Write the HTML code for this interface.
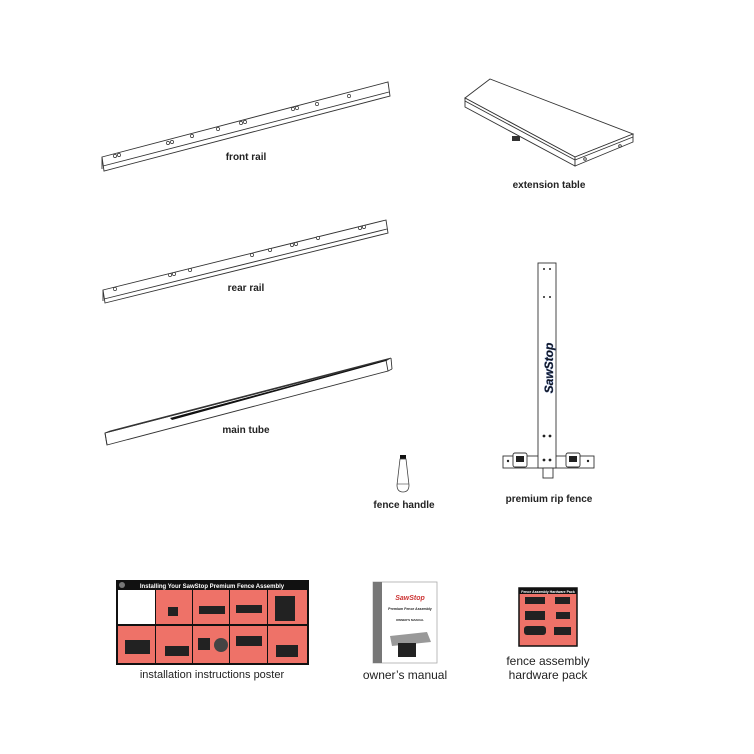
<!DOCTYPE html>
<html><head><meta charset="utf-8"><style>
html,body{margin:0;padding:0;background:#fff}
svg{display:block}
text{font-family:"Liberation Sans",Arial,sans-serif;fill:#222}
</style></head><body>
<svg width="754" height="754" viewBox="0 0 754 754" xmlns="http://www.w3.org/2000/svg">
<rect width="754" height="754" fill="#fff"/>
<g fill="none" stroke="#333" stroke-width="0.9">
<polygon points="102,157 388,82 390,96 104,171" fill="#fff"/>
<line x1="103" y1="166" x2="389" y2="92"/>
<line x1="102" y1="157" x2="102" y2="169"/>
<g fill="#fff" stroke-width="0.7">
<circle cx="115" cy="156" r="1.6"/><circle cx="119" cy="155" r="1.6"/>
<circle cx="168" cy="143" r="1.6"/><circle cx="172" cy="142" r="1.6"/>
<circle cx="192" cy="136" r="1.6"/><circle cx="218" cy="129" r="1.6"/>
<circle cx="241" cy="123" r="1.6"/><circle cx="245" cy="122" r="1.6"/>
<circle cx="293" cy="109" r="1.6"/><circle cx="297" cy="108" r="1.6"/>
<circle cx="317" cy="104" r="1.6"/><circle cx="349" cy="96" r="1.6"/>
</g>
<polygon points="103,290 386,220 388,233 105,303" fill="#fff"/>
<line x1="104" y1="299" x2="387" y2="229"/>
<line x1="103" y1="290" x2="103" y2="301"/>
<g fill="#fff" stroke-width="0.7">
<circle cx="115" cy="289" r="1.6"/><circle cx="170" cy="275" r="1.6"/><circle cx="174" cy="274" r="1.6"/>
<circle cx="190" cy="270" r="1.6"/><circle cx="252" cy="255" r="1.6"/><circle cx="270" cy="250" r="1.6"/>
<circle cx="292" cy="245" r="1.6"/><circle cx="296" cy="244" r="1.6"/><circle cx="318" cy="238" r="1.6"/>
<circle cx="360" cy="228" r="1.6"/><circle cx="364" cy="227" r="1.6"/>
</g>
<polygon points="105,433 386,360 388,371 107,445" fill="#fff"/>
<polygon points="105,433 110,431 391,358 386,360" fill="#fff"/>
<line x1="391" y1="358" x2="392" y2="369"/><line x1="392" y1="369" x2="388" y2="371"/>
<line x1="105" y1="433" x2="107" y2="445"/>
</g>
<polygon points="170,418 390,359 386,361 172,420" fill="#111"/>
<g fill="#fff" stroke="#333" stroke-width="0.9">
<polygon points="465,98 490,79 633,134 575,157"/>
<polygon points="465,98 575,157 575,166 465,107"/>
<polygon points="575,157 633,134 633,142 575,166"/>
<line x1="465" y1="101" x2="575" y2="160"/>
<line x1="575" y1="160" x2="633" y2="137"/>
<circle cx="585" cy="159" r="1.3"/><circle cx="620" cy="146" r="1.3"/>
</g>
<rect x="512" y="136" width="8" height="5" fill="#333"/>
<g stroke="#333" stroke-width="0.9" fill="#fff">
<rect x="503" y="456" width="91" height="12"/>
<rect x="538" y="263" width="18" height="205"/>
<rect x="513" y="453" width="14" height="14" rx="2"/>
<rect x="566" y="453" width="14" height="14" rx="2"/>
<rect x="543" y="468" width="10" height="10"/>
</g>
<g fill="#222">
<circle cx="544" cy="269" r="1"/><circle cx="550" cy="269" r="1"/>
<circle cx="544" cy="297" r="1"/><circle cx="550" cy="297" r="1"/>
<circle cx="544" cy="436" r="1.4"/><circle cx="550" cy="436" r="1.4"/>
<circle cx="544" cy="460" r="1.4"/><circle cx="550" cy="460" r="1.4"/>
<circle cx="508" cy="461" r="1.2"/><circle cx="588" cy="461" r="1.2"/>
<rect x="516" y="456" width="8" height="6"/><rect x="569" y="456" width="8" height="6"/>
</g>
<text x="0" y="0" transform="translate(553,368) rotate(-90)" text-anchor="middle" font-size="12" font-weight="bold" font-style="italic" style="fill:#111;stroke:#2d4a8a;stroke-width:0.4">SawStop</text>
<rect x="400" y="455" width="6" height="4" fill="#111"/>
<path d="M400,459 L406,459 L409,485 Q409,492 403,492 Q397,492 397,485 Z" fill="#fff" stroke="#444" stroke-width="0.8"/>
<line x1="397" y1="484" x2="409" y2="484" stroke="#444" stroke-width="0.6"/>
<rect x="116" y="580" width="193" height="85" fill="#111"/>
<rect x="118" y="590" width="37" height="34" fill="#fff"/>
<g fill="#ee7268">
<rect x="156" y="590" width="36" height="34"/><rect x="193" y="590" width="36" height="34"/><rect x="230" y="590" width="37" height="34"/><rect x="268" y="590" width="39" height="34"/>
<rect x="118" y="626" width="37" height="37"/><rect x="156" y="626" width="36" height="37"/><rect x="193" y="626" width="36" height="37"/><rect x="230" y="626" width="37" height="37"/><rect x="268" y="626" width="39" height="37"/>
</g>
<g fill="#222">
<rect x="168" y="607" width="10" height="9"/><rect x="199" y="606" width="26" height="8"/><rect x="236" y="605" width="26" height="8"/><rect x="275" y="596" width="20" height="25"/>
<rect x="125" y="640" width="25" height="14"/><rect x="165" y="646" width="24" height="10"/><rect x="198" y="638" width="12" height="12"/><rect x="236" y="636" width="26" height="10"/><rect x="276" y="645" width="22" height="12"/>
</g>
<circle cx="221" cy="645" r="7" fill="#444"/>
<text x="212" y="588" text-anchor="middle" font-size="6" font-weight="bold" style="fill:#fff">Installing Your SawStop Premium Fence Assembly</text>
<circle cx="122" cy="585" r="3" fill="#777"/>
<rect x="373" y="582" width="64" height="81" fill="#fff" stroke="#aaa" stroke-width="0.8"/>
<rect x="373" y="582" width="9" height="81" fill="#777"/>
<text x="410" y="600" text-anchor="middle" font-size="7" font-weight="bold" font-style="italic" style="fill:#c33">SawStop</text>
<text x="410" y="610" text-anchor="middle" font-size="3.5" font-weight="bold">Premium Fence Assembly</text>
<text x="410" y="621" text-anchor="middle" font-size="3" font-weight="bold">OWNER'S MANUAL</text>
<polygon points="390,636 427,632 431,642 392,646" fill="#999"/>
<rect x="398" y="643" width="18" height="14" fill="#222"/>
<rect x="519" y="588" width="58" height="58" fill="#ee7268" stroke="#111" stroke-width="1.5"/>
<rect x="519" y="588" width="58" height="6" fill="#111"/>
<text x="548" y="593" text-anchor="middle" font-size="3.5" font-weight="bold" style="fill:#fff">Fence Assembly Hardware Pack</text>
<g fill="#222">
<rect x="525" y="597" width="20" height="7"/><rect x="555" y="597" width="15" height="7"/>
<rect x="525" y="611" width="20" height="9"/><rect x="556" y="612" width="14" height="7"/>
<rect x="524" y="626" width="22" height="9" rx="3"/><rect x="554" y="627" width="17" height="8"/>
</g>
<g font-size="10" text-anchor="middle" font-weight="bold">
<text x="246" y="160">front rail</text>
<text x="549" y="188">extension table</text>
<text x="246" y="291">rear rail</text>
<text x="246" y="433">main tube</text>
<text x="404" y="508">fence handle</text>
<text x="549" y="502">premium rip fence</text>
</g>
<g font-size="11" text-anchor="middle">
<text x="212" y="678">installation instructions poster</text>
<text x="405" y="679" font-size="12">owner’s manual</text>
<text x="548" y="665" font-size="12">fence assembly</text>
<text x="548" y="679" font-size="12">hardware pack</text>
</g>
</svg>
</body></html>
